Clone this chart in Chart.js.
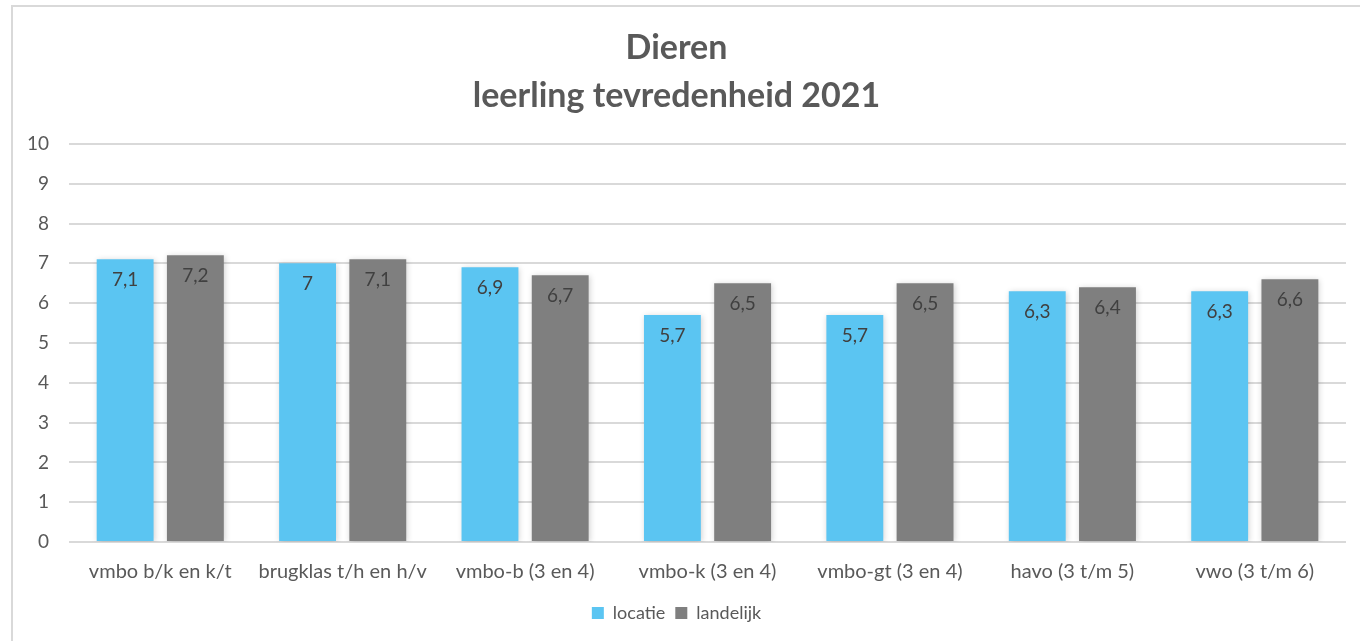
<!DOCTYPE html>
<html>
<head>
<meta charset="utf-8">
<script src="https://cdn.jsdelivr.net/npm/chart.js@4.4.0/dist/chart.umd.min.js"></script>
<style>
  html, body { margin: 0; padding: 0; background: #fff; }
  #wrap { position: relative; width: 1360px; height: 641px; overflow: hidden; }
  #frame { position: absolute; left: 11px; top: 5px; width: 1400px; height: 700px; border-left: 2px solid #d9d9d9; border-top: 2px solid #d9d9d9; }
  canvas { position: absolute; left: 0; top: 0; }
</style>
</head>
<body>
<div id="wrap">
  <div id="frame"></div>
  <canvas id="c" width="1360" height="641"></canvas>
</div>
<script>
const categories = ["vmbo b/k en k/t", "brugklas t/h en h/v", "vmbo-b (3 en 4)", "vmbo-k (3 en 4)", "vmbo-gt (3 en 4)", "havo (3 t/m 5)", "vwo (3 t/m 6)"];
const locatie = [7.1, 7.0, 6.9, 5.7, 5.7, 6.3, 6.3];
const landelijk = [7.2, 7.1, 6.7, 6.5, 6.5, 6.4, 6.6];
const seriesNames = ["locatie", "landelijk"];
const titleLines = ["Dieren", "leerling tevredenheid 2021"];

const FONT = "Lato, 'Open Sans', sans-serif";
const TXT = "#595959";

const valueLabels = {
  id: "valueLabels",
  afterDatasetsDraw(chart) {
    const ctx = chart.ctx;
    ctx.save();
    ctx.font = "19px " + FONT;
    ctx.fillStyle = "#404040";
    ctx.textAlign = "center";
    ctx.textBaseline = "middle";
    chart.data.datasets.forEach((ds, i) => {
      chart.getDatasetMeta(i).data.forEach((bar, j) => {
        const v = ds.data[j];
        const txt = String(v).replace(".", ",");
        ctx.fillText(txt, bar.x, bar.y + 21);
      });
    });
    ctx.restore();
  }
};

const barShadow = {
  id: "barShadow",
  beforeDatasetsDraw(chart) {
    chart.ctx.save();
    chart.ctx.shadowColor = "rgba(0,0,0,0.18)";
    chart.ctx.shadowBlur = 6;
    chart.ctx.shadowOffsetX = 1;
    chart.ctx.shadowOffsetY = 1;
  },
  afterDatasetsDraw(chart) {
    chart.ctx.restore();
  }
};

new Chart(document.getElementById("c"), {
  type: "bar",
  data: {
    labels: categories,
    datasets: [
      { label: seriesNames[0], data: locatie, backgroundColor: "#5BC5F2", categoryPercentage: 0.77, barPercentage: 0.81 },
      { label: seriesNames[1], data: landelijk, backgroundColor: "#7F7F7F", categoryPercentage: 0.77, barPercentage: 0.81 }
    ]
  },
  options: {
    responsive: false,
    animation: false,
    layout: { padding: { left: 7, right: 14, top: 5, bottom: 9 } },
    scales: {
      x: {
        grid: { display: false },
        border: { display: false },
        ticks: { color: TXT, font: { family: FONT, size: 20 }, padding: 10, maxRotation: 0 }
      },
      y: {
        min: 0, max: 10,
        ticks: { stepSize: 1, color: TXT, font: { family: FONT, size: 19 }, padding: 20 },
        grid: { color: "#d9d9d9", lineWidth: 2, drawTicks: false },
        border: { display: false }
      }
    },
    plugins: {
      title: {
        display: true,
        text: titleLines,
        color: TXT,
        font: { family: FONT, size: 34, weight: "bold", lineHeight: 1.41 },
        padding: { top: 19, bottom: 24 }
      },
      legend: {
        position: "bottom",
        labels: { color: TXT, font: { family: FONT, size: 18 }, boxWidth: 12, boxHeight: 12, padding: 10 }
      },
      tooltip: { enabled: false }
    }
  },
  plugins: [barShadow, valueLabels]
});
</script>
</body>
</html>
